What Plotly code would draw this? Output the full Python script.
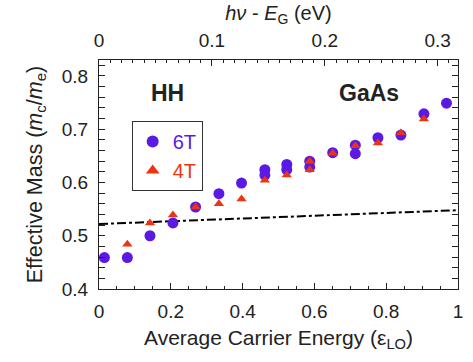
import plotly.graph_objects as go

# 6T data (circles)
x6 = [0.015, 0.079, 0.142, 0.206, 0.269, 0.334, 0.397, 0.462, 0.462, 0.523, 0.523,
      0.587, 0.587, 0.651, 0.714, 0.714, 0.777, 0.841, 0.905, 0.968]
y6 = [0.459, 0.459, 0.500, 0.524, 0.554, 0.579, 0.599, 0.624, 0.614, 0.634, 0.624,
      0.640, 0.629, 0.656, 0.670, 0.654, 0.684, 0.689, 0.729, 0.749]
# 4T data (triangles)
x4 = [0.079, 0.142, 0.206, 0.269, 0.334, 0.397, 0.462, 0.523, 0.587, 0.587,
      0.651, 0.714, 0.777, 0.841, 0.905]
y4 = [0.484, 0.524, 0.539, 0.554, 0.560, 0.569, 0.604, 0.614, 0.640, 0.624,
      0.655, 0.669, 0.674, 0.693, 0.719]
# reference dash-dot line
xline = [0.0, 1.0]
yline = [0.522, 0.548]

purple = "#5b19e6"
red = "#ee3311"
txt = "#222222"
font = "Liberation Sans, Arial, sans-serif"

fig = go.Figure()
fig.add_trace(go.Scatter(x=xline, y=yline, mode="lines",
                         line=dict(color="black", width=2, dash="dashdot"),
                         showlegend=False, hoverinfo="skip"))
fig.add_trace(go.Scatter(x=x6, y=y6, mode="markers",
                         name=f"<span style='color:{purple}'>6T</span>",
                         marker=dict(symbol="circle", size=11, color=purple)))
fig.add_trace(go.Scatter(x=x4, y=y4, mode="markers",
                         name=f"<span style='color:{red}'>4T</span>",
                         marker=dict(symbol="triangle-up", size=9, color=red)))
# dummy trace for the top axis
fig.add_trace(go.Scatter(x=[0], y=[0.5], xaxis="x2", mode="markers",
                         marker=dict(opacity=0), showlegend=False, hoverinfo="skip"))

axis_common = dict(showgrid=False, zeroline=False, showline=True, linecolor="#222",
                   linewidth=1, ticks="inside", tickcolor="#222", ticklen=6,
                   tickfont=dict(size=19, color=txt, family=font))

fig.update_layout(
    width=473, height=362,
    margin=dict(l=99, r=10, t=60, b=73),
    paper_bgcolor="white", plot_bgcolor="white",
    font=dict(family=font, color=txt),
    xaxis=dict(range=[0, 1], dtick=0.2, tickformat="~g",
               minor=dict(dtick=0.05, ticks="inside", ticklen=3, tickcolor="#222"),
               mirror=True, ticklabelstandoff=5,
               title=dict(text="Average Carrier Energy (ε<sub>LO</sub>)",
                          font=dict(size=21, color=txt), standoff=9),
               **axis_common),
    xaxis2=dict(range=[0, 0.318], dtick=0.1, overlaying="x", side="top",
                tickformat="~g", ticklabelstandoff=4,
                minor=dict(dtick=0.01, ticks="inside", ticklen=3, tickcolor="#222"),
                title=dict(text="<i>hν</i> - <i>E</i><sub>G</sub> (eV)",
                           font=dict(size=20, color=txt), standoff=4),
                **axis_common),
    yaxis=dict(range=[0.4, 0.83], dtick=0.1, tickformat=".1f",
               minor=dict(dtick=0.02, ticks="inside", ticklen=3, tickcolor="#222"),
               mirror="allticks", ticklabelstandoff=6,
               title=dict(text="Effective Mass (<i>m</i><sub>c</sub>/<i>m</i><sub>e</sub>)",
                          font=dict(size=21.5, color=txt), standoff=13),
               **axis_common),
    legend=dict(x=0.091, y=0.734, xanchor="left", yanchor="top",
                bordercolor="#333", borderwidth=1, bgcolor="white",
                font=dict(size=20, family=font), itemsizing="constant",
                tracegroupgap=4),
    showlegend=True,
)

fig.add_annotation(x=0.192, y=0.768, text="<b>HH</b>", showarrow=False,
                   font=dict(size=23, color=txt, family=font))
fig.add_annotation(x=0.753, y=0.768, text="<b>GaAs</b>", showarrow=False,
                   font=dict(size=23, color=txt, family=font))

fig.write_html("out.html")
